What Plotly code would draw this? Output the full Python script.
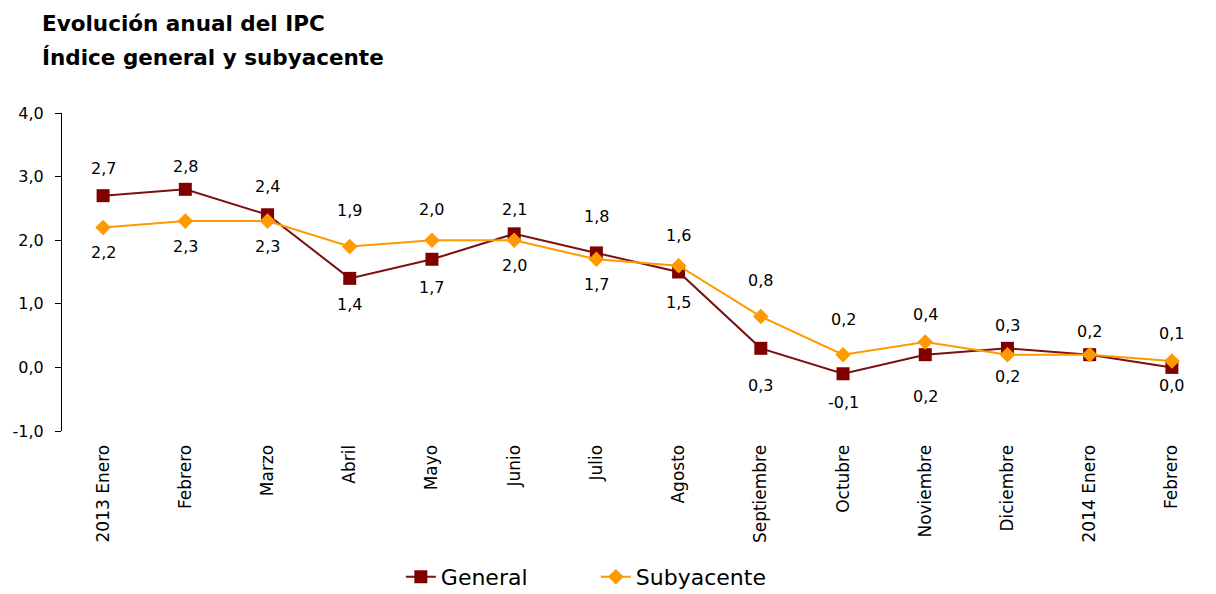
import plotly.graph_objects as go

months = ["2013 Enero", "Febrero", "Marzo", "Abril", "Mayo", "Junio", "Julio",
          "Agosto", "Septiembre", "Octubre", "Noviembre", "Diciembre",
          "2014 Enero", "Febrero"]
general = [2.7, 2.8, 2.4, 1.4, 1.7, 2.1, 1.8, 1.5, 0.3, -0.1, 0.2, 0.3, 0.2, 0.0]
subyacente = [2.2, 2.3, 2.3, 1.9, 2.0, 2.0, 1.7, 1.6, 0.8, 0.2, 0.4, 0.2, 0.2, 0.1]
y_ticks = [-1, 0, 1, 2, 3, 4]

# label placement (style): pixel offset of each value label from its marker
# (None = label hidden because it coincides with the other series' label)
general_label_shift = [27, 23, 28, -26, -28, 24, 36, -30, -37, -29, -42, 23, 23, -18]
sub_label_shift = [-25, -25, -25, 36, 31, -25, -25, 30, 36, 35, 27, -22, None, 28]

FONT = "DejaVu Sans"
RED = "#800000"
ORANGE = "#FF9900"

x = list(range(len(months)))


def fmt(v):
    return f"{v:.1f}".replace(".", ",")


fig = go.Figure()
fig.add_trace(go.Scatter(
    x=x, y=general, name="General", mode="lines+markers",
    line=dict(color="#7A1010", width=2),
    marker=dict(symbol="square", size=13, color=RED),
))
fig.add_trace(go.Scatter(
    x=x, y=subyacente, name="Subyacente", mode="lines+markers",
    line=dict(color=ORANGE, width=2),
    marker=dict(symbol="diamond", size=12, color=ORANGE),
))

for vals, shifts in ((general, general_label_shift), (subyacente, sub_label_shift)):
    for xi, v, s in zip(x, vals, shifts):
        if s is None:
            continue
        fig.add_annotation(x=xi, y=v, text=fmt(v), showarrow=False, yshift=s,
                           font=dict(family=FONT, size=16, color="#000"))

n = len(months)
plot_top, plot_h, plot_l, plot_w = 113, 318, 62, 1151
fig.update_layout(
    width=1216, height=594,
    margin=dict(l=plot_l, r=3, t=plot_top, b=163),
    paper_bgcolor="white", plot_bgcolor="white",
    font=dict(family=FONT, size=16, color="#000"),
    showlegend=True,
    legend=dict(orientation="h", xref="container", x=0.49, xanchor="center",
                yref="container", y=17 / 594, yanchor="middle",
                font=dict(family=FONT, size=22, color="#000"),
                entrywidth=150, tracegroupgap=0),
    xaxis=dict(range=[-0.5, n - 0.5], tickvals=x, ticktext=months, tickangle=-90,
               showgrid=False, zeroline=False, showline=False,
               ticks="outside", ticklen=6, tickcolor="rgba(0,0,0,0)",
               tickfont=dict(family=FONT, size=17), fixedrange=True),
    xaxis2=dict(range=[-0.5, n - 0.5], overlaying="x", anchor="free", position=0.8,
                side="bottom", tickvals=[i - 0.5 for i in range(n + 1)],
                showticklabels=False, ticks="outside", ticklen=7, tickcolor="#000",
                showline=True, linecolor="#000", linewidth=1, showgrid=False,
                zeroline=False),
    yaxis=dict(range=[-1, 4], tickvals=y_ticks, ticktext=[fmt(v) for v in y_ticks],
               showgrid=False, zeroline=False, showline=True, linecolor="#000",
               linewidth=1, ticks="outside", ticklen=6, tickcolor="#000",
               ticklabelstandoff=8, tickfont=dict(family=FONT, size=16)),
)

fig.add_annotation(text="<b>Evolución anual del IPC</b>", xref="paper", yref="paper",
                   x=(40 - plot_l) / plot_w, y=1 + (plot_top - 23) / plot_h,
                   showarrow=False, xanchor="left", yanchor="middle",
                   font=dict(family=FONT, size=21.5, color="#000"))
fig.add_annotation(text="<b>Índice general y subyacente</b>", xref="paper", yref="paper",
                   x=(40 - plot_l) / plot_w, y=1 + (plot_top - 58) / plot_h,
                   showarrow=False, xanchor="left", yanchor="middle",
                   font=dict(family=FONT, size=21.5, color="#000"))

fig.write_html("out.html", config={"displayModeBar": False},
               post_script="document.body.style.margin='0';")
